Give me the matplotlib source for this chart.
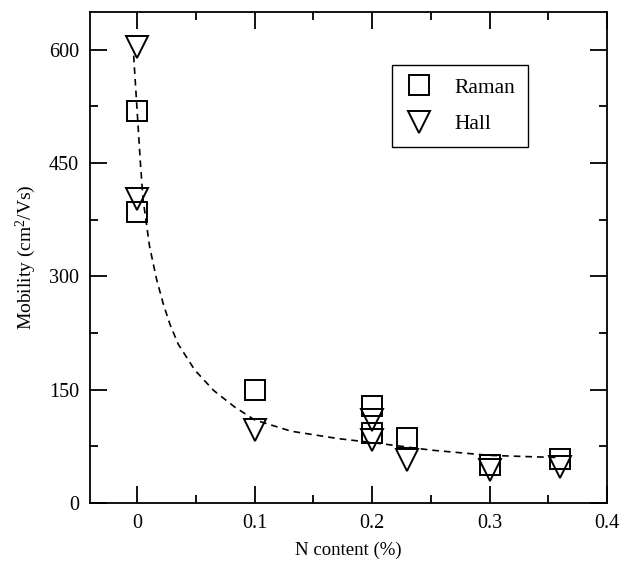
import matplotlib
matplotlib.use("Agg")
import matplotlib.pyplot as plt
from matplotlib.ticker import MultipleLocator

plt.rcParams["font.family"] = ["Liberation Serif", "DejaVu Serif"]
plt.rcParams["mathtext.fontset"] = "custom"
plt.rcParams["mathtext.rm"] = "Liberation Serif"
plt.rcParams["mathtext.it"] = "Liberation Serif:italic"

# Raman data (squares)
raman_x = [0, 0, 0.1, 0.2, 0.2, 0.23, 0.3, 0.36]
raman_y = [519, 385, 149, 128, 93, 86, 50, 58]

# Hall data (down triangles)
hall_x = [0, 0, 0.1, 0.2, 0.2, 0.23, 0.3, 0.36]
hall_y = [603, 402, 96, 110, 84, 57, 43, 47]

# dashed guide curve
fit_x = [-0.003, 0, 0.0027, 0.005, 0.0105, 0.0165, 0.0225, 0.028, 0.035,
         0.049, 0.065, 0.083, 0.1, 0.131, 0.172, 0.2, 0.25, 0.3, 0.36]
fit_y = [592, 518, 451, 402, 340, 296, 262, 236, 210,
         176, 149, 127, 110, 95, 85, 80, 70, 63, 60]

fig = plt.figure(figsize=(6.22, 5.62), dpi=100)
ax = fig.add_axes([0.145, 0.105, 0.831, 0.874])

ax.plot(fit_x, fit_y, "k--", lw=1.2, dashes=(4, 3))
ax.plot(raman_x, raman_y, "s", ms=14, mfc="none", mec="black", mew=1.4,
        ls="none", label="Raman")
ax.plot(hall_x, hall_y, "v", ms=15.5, mfc="none", mec="black", mew=1.4,
        ls="none", label="Hall")

ax.set_xlim(-0.04, 0.4)
ax.set_ylim(0, 650)
ax.xaxis.set_major_locator(MultipleLocator(0.1))
ax.xaxis.set_minor_locator(MultipleLocator(0.05))
ax.yaxis.set_major_locator(MultipleLocator(150))
ax.yaxis.set_minor_locator(MultipleLocator(75))
ax.set_xticks([0, 0.1, 0.2, 0.3, 0.4])
ax.set_xticklabels(["0", "0.1", "0.2", "0.3", "0.4"])

ax.tick_params(which="both", direction="in", top=True, right=True,
               labelsize=14.5, width=1.3, pad=8)
ax.tick_params(which="major", length=12)
ax.tick_params(which="minor", length=6)
for s in ax.spines.values():
    s.set_linewidth(1.3)

ax.set_xlabel("N content (%)", fontsize=13.5, labelpad=6)
ax.set_ylabel("Mobility (cm$^2$/Vs)", fontsize=14, labelpad=8)

leg = ax.legend(loc="upper left", bbox_to_anchor=(0.584, 0.892), fontsize=15.5,
                fancybox=False, edgecolor="black", framealpha=1,
                borderaxespad=0, handletextpad=1.0, borderpad=0.6,
                labelspacing=0.75, handlelength=1.3)
leg.get_frame().set_linewidth(1.0)

plt.savefig("out.png", dpi=100)
plt.close()
